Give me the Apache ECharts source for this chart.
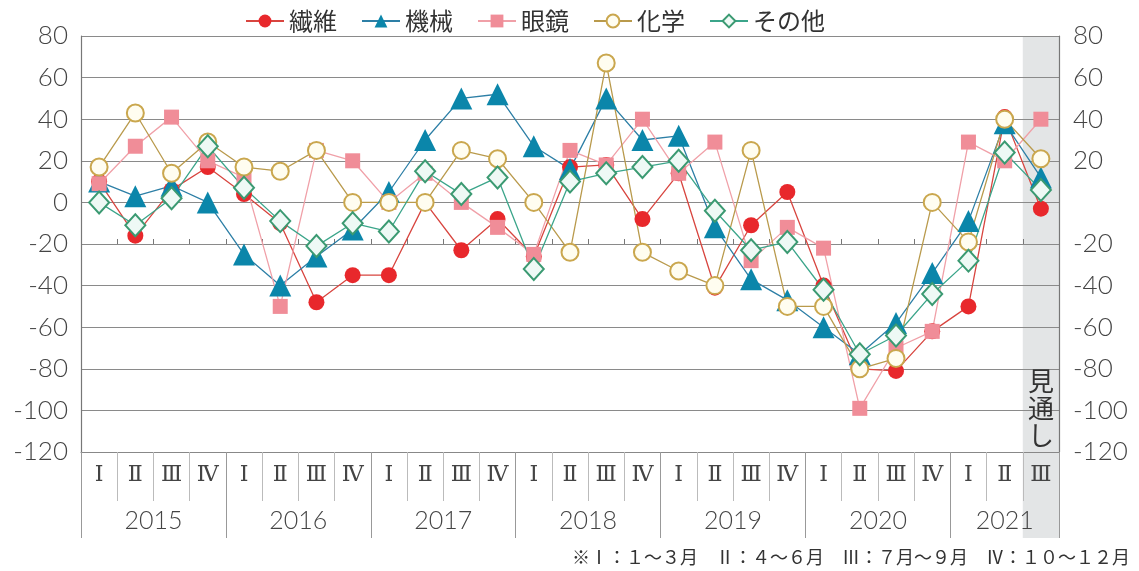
<!DOCTYPE html>
<html><head><meta charset="utf-8">
<script src="https://cdn.jsdelivr.net/npm/echarts@6/dist/echarts.min.js"></script>
<style>html,body{margin:0;padding:0;background:#fff}#c{width:1139px;height:571px}</style>
</head><body><div id="c"></div><script>
// ---- data ----
const years = ['2015','2016','2017','2018','2019','2020','2021'];
const quartersPerYear = [4,4,4,4,4,4,3];
const quarterNames = ['Ⅰ','Ⅱ','Ⅲ','Ⅳ'];
const seriesNames = ['繊維','機械','眼鏡','化学','その他'];
const seni   = [10,-16,6,17,4,-10,-48,-35,-35,0,-23,-8,-26,17,18,-8,14,-41,-11,5,-40,-80,-81,-62,-50,41,-3];
const kikai  = [10,3,8,0,-25,-40,-26,-13,5,30,50,52,27,16,50,30,32,-12,-37,-47,-60,-73,-58,-34,-9,38,12];
const megane = [9,27,41,20,12,-50,25,20,0,14,0,-12,-25,25,18,40,14,29,-28,-12,-22,-99,-70,-62,29,20,40];
const kagaku = [17,43,14,29,17,15,25,0,0,0,25,21,0,-24,67,-24,-33,-40,25,-50,-50,-80,-75,0,-19,40,21];
const sonota = [0,-11,2,27,7,-9,-21,-10,-14,15,4,12,-32,10,14,17,20,-4,-23,-19,-42,-73,-64,-44,-28,24,6];
const yMin = -120, yMax = 80, yStep = 20;
const forecastLabel = '見通し';
const footnote = '※Ⅰ：１～３月　Ⅱ：４～６月　Ⅲ：７月～９月　Ⅳ：１０～１２月';

// ---- build categories ----
const categories = [];
years.forEach((y, i) => { for (let q = 0; q < quartersPerYear[i]; q++) categories.push(y + '-' + quarterNames[q]); });
const nQ = categories.length;
const halfData = [];
for (let k = 0; k <= nQ * 2; k++) halfData.push('h' + k);
const yearBoundaryIdx = new Set([0]);
const yearLabelAt = {};
let acc = 0;
years.forEach((y, i) => {
  yearLabelAt[acc * 2 + quartersPerYear[i]] = y;
  acc += quartersPerYear[i];
  yearBoundaryIdx.add(acc * 2);
});

const numFont = {fontFamily: 'Lato', fontWeight: 300, fontSize: 26, color: '#444'};
const gridTop = 36, gridBottom = 119, gridLeft = 81, gridRight = 80;
const gridH = 571 - gridTop - gridBottom;

const styles = [
  {symbol: 'circle', symbolSize: 16, color: '#e8282c', line: '#d8453f', border: '#e8282c', bw: 0},
  {symbol: 'triangle', symbolSize: 22, color: '#0b86aa', line: '#2d7fa6', border: '#0b86aa', bw: 0},
  {symbol: 'rect', symbolSize: 15, color: '#f08d98', line: '#f0a0a8', border: '#f08d98', bw: 0},
  {symbol: 'circle', symbolSize: 17, color: '#fffdf0', line: '#b99a4c', border: '#caa74e', bw: 2},
  {symbol: 'diamond', symbolSize: [20, 22], color: '#eef9f5', line: '#3ba58a', border: '#3b9a72', bw: 2}
];
const dataSets = [seni, kikai, megane, kagaku, sonota];

const series = seriesNames.map((n, i) => ({
  name: n, type: 'line', xAxisIndex: 0, yAxisIndex: 0,
  data: dataSets[i],
  symbol: styles[i].symbol, symbolSize: styles[i].symbolSize,
  lineStyle: {color: styles[i].line, width: 1.3},
  itemStyle: {color: styles[i].color, borderColor: styles[i].border, borderWidth: styles[i].bw},
  emphasis: {disabled: true},
  animation: false
}));

const chart = echarts.init(document.getElementById('c'));
chart.setOption({
  animation: false,
  backgroundColor: '#fff',
  title: {text: footnote, right: 4, top: 543,
    textStyle: {fontFamily: 'Noto Sans CJK JP', fontWeight: 'normal', fontSize: 18, color: '#333'}},
  legend: {left: 240, top: 4, itemWidth: 38, itemHeight: 16, itemGap: 24,
    textStyle: {fontFamily: 'Noto Sans CJK JP', fontSize: 24, color: '#333'},
    data: seriesNames},
  grid: {left: gridLeft, right: gridRight, top: gridTop, bottom: gridBottom, containLabel: false},
  xAxis: [
    {type: 'category', data: categories, position: 'bottom', boundaryGap: true,
      axisLine: {show: true, onZero: false, lineStyle: {color: '#888', width: 1.2}},
      axisTick: {show: true, interval: 0, length: 49, lineStyle: {color: '#bbb', width: 1}},
      axisLabel: {interval: 0, margin: 12, formatter: v => v.split('-')[1],
        fontFamily: 'DejaVu Serif', fontSize: 22, color: '#444'},
      splitLine: {show: false}},
    {type: 'category', data: halfData, position: 'bottom', boundaryGap: false,
      axisLine: {show: false, onZero: false},
      axisTick: {show: true, length: 86, interval: (i) => yearBoundaryIdx.has(i), lineStyle: {color: '#999', width: 1}},
      axisLabel: {margin: 56, interval: (i) => yearLabelAt[i] !== undefined,
        formatter: (v, i) => yearLabelAt[i] || '', fontFamily: 'Lato', fontWeight: 300, fontSize: 25, color: '#444'},
      splitLine: {show: false}},
    {type: 'category', data: categories, position: 'bottom', boundaryGap: true,
      offset: -gridH * ((0 - yStep - yMin) / (yMax - yMin)),
      axisLine: {show: false, onZero: false},
      axisTick: {show: true, interval: 0, inside: true, length: 5, lineStyle: {color: '#777'}},
      axisLabel: {show: false}, splitLine: {show: false}}
  ],
  yAxis: [
    {type: 'value', min: yMin, max: yMax, interval: yStep, position: 'left',
      axisLine: {show: true, onZero: false, lineStyle: {color: '#777', width: 1.2}},
      axisTick: {show: false},
      axisLabel: Object.assign({margin: 13}, numFont),
      splitLine: {show: true, lineStyle: {color: '#8a8a8a', width: 1.2}}},
    {type: 'value', min: yMin, max: yMax, interval: yStep, position: 'right',
      axisLine: {show: true, onZero: false, lineStyle: {color: '#777', width: 1.2}},
      axisTick: {show: false},
      axisLabel: Object.assign({margin: 14, formatter: v => v === 0 ? '' : String(v)}, numFont),
      splitLine: {show: false}}
  ],
  series: series
});

const cLast = chart.convertToPixel({xAxisIndex: 0}, nQ - 1);
const cPrev = chart.convertToPixel({xAxisIndex: 0}, nQ - 2);
const bw = cLast - cPrev;
const yTop = chart.convertToPixel({yAxisIndex: 0}, yMax);
const yBot = chart.convertToPixel({yAxisIndex: 0}, yMin);
chart.setOption({
  graphic: [
    {type: 'rect', z: -10, silent: true,
      shape: {x: cLast - bw / 2, y: yTop, width: bw, height: yBot - yTop + 86},
      style: {fill: '#e3e5e6'}},
    {type: 'text', z: 1, silent: true, x: cLast, y: yBot - 84,
      style: {text: forecastLabel.split('').join('\n'), fill: '#333', fontSize: 26, lineHeight: 27,
        fontFamily: 'Noto Sans CJK JP', align: 'center', verticalAlign: 'top'}}
  ]
});
</script></body></html>
